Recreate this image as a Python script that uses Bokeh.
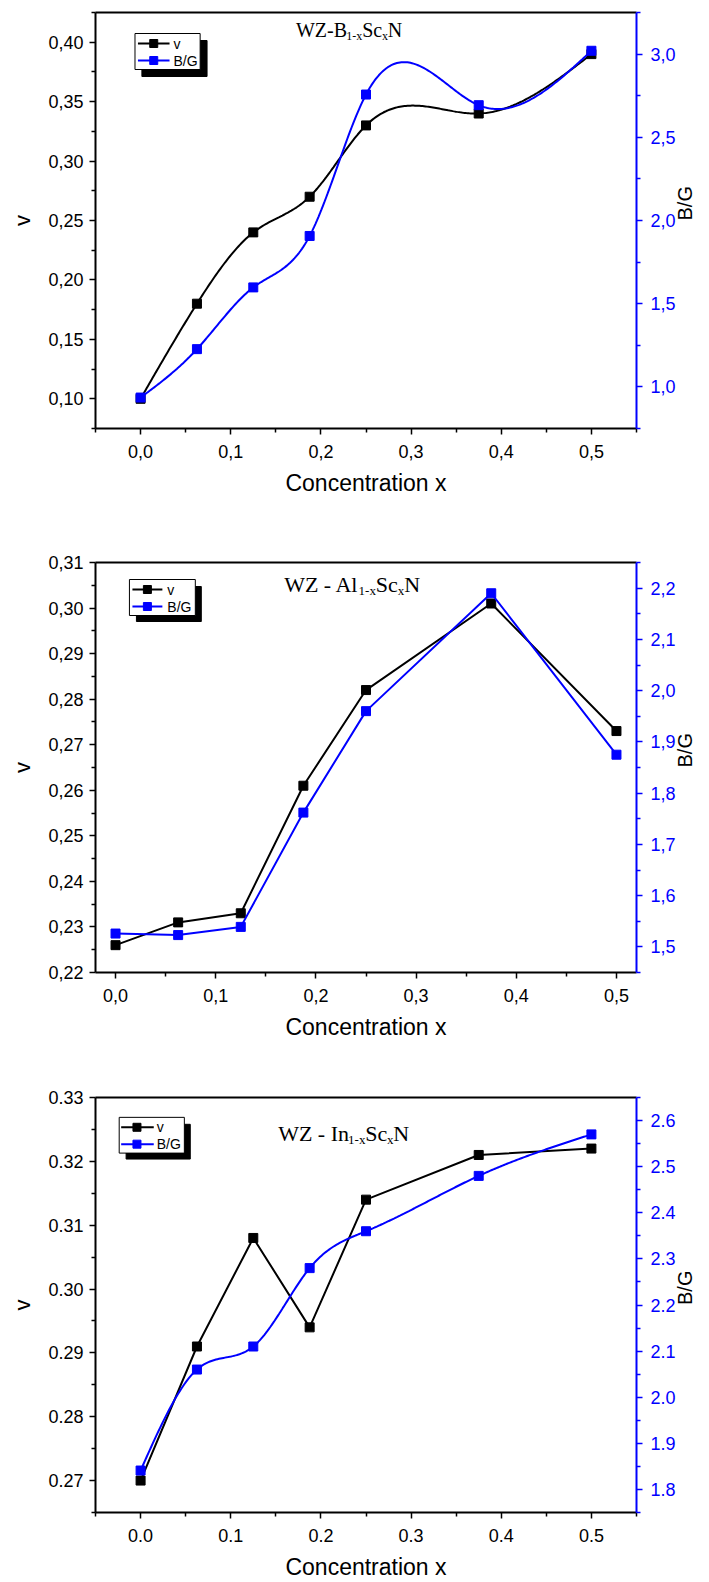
import math
import numpy as np
from bokeh.plotting import figure
from bokeh.models import (Range1d, LinearAxis, FixedTicker, CustomJSTickFormatter, Label)
from bokeh.layouts import column
from bokeh.embed import file_html
from bokeh.resources import INLINE

# Sc concentration x for every compound
conc = [0.0, 0.0625, 0.125, 0.1875, 0.25, 0.375, 0.5]

# WZ-B(1-x)Sc(x)N : Poisson ratio and Pugh ratio
b_nu = [0.100, 0.180, 0.240, 0.270, 0.330, 0.340, 0.390]
b_bg = [0.936, 1.227, 1.598, 1.907, 2.757, 2.693, 3.020]

# WZ-Al(1-x)Sc(x)N
al_nu = [0.226, 0.231, 0.233, 0.261, 0.282, 0.301, 0.273]
al_bg = [1.526, 1.523, 1.539, 1.762, 1.960, 2.190, 1.875]

# WZ-In(1-x)Sc(x)N
in_nu = [0.270, 0.291, 0.308, 0.294, 0.314, 0.321, 0.322]
in_bg = [1.841, 2.060, 2.110, 2.280, 2.360, 2.480, 2.570]

# axis ticks
x_ticks = [0.0, 0.1, 0.2, 0.3, 0.4, 0.5]
b_nu_ticks = [0.10, 0.15, 0.20, 0.25, 0.30, 0.35, 0.40]
b_bg_ticks = [1.0, 1.5, 2.0, 2.5, 3.0]
al_nu_ticks = [0.22, 0.23, 0.24, 0.25, 0.26, 0.27, 0.28, 0.29, 0.30, 0.31]
al_bg_ticks = [1.5, 1.6, 1.7, 1.8, 1.9, 2.0, 2.1, 2.2]
in_nu_ticks = [0.27, 0.28, 0.29, 0.30, 0.31, 0.32, 0.33]
in_bg_ticks = [1.8, 1.9, 2.0, 2.1, 2.2, 2.3, 2.4, 2.5, 2.6]

BLUE = "#0000FF"
SANS = "Liberation Sans"
SERIF = "Liberation Serif"
PAGE_W = 709

# Times advance widths (em) for the title glyphs
TIMES_W = {"W": 0.944, "Z": 0.611, "-": 0.333, "B": 0.667, " ": 0.25, "A": 0.722,
           "l": 0.278, "I": 0.333, "n": 0.5, "S": 0.556, "c": 0.444, "x": 0.5,
           "N": 0.722, "1": 0.5}


def natural_spline(xs, ys, n=300):
    x = np.asarray(xs, float)
    y = np.asarray(ys, float)
    k = len(x)
    h = np.diff(x)
    A = np.zeros((k, k))
    r = np.zeros(k)
    A[0, 0] = A[-1, -1] = 1.0
    for i in range(1, k - 1):
        A[i, i - 1] = h[i - 1]
        A[i, i] = 2 * (h[i - 1] + h[i])
        A[i, i + 1] = h[i]
        r[i] = 3 * ((y[i + 1] - y[i]) / h[i] - (y[i] - y[i - 1]) / h[i - 1])
    c = np.linalg.solve(A, r)
    b = (y[1:] - y[:-1]) / h - h * (2 * c[:-1] + c[1:]) / 3
    d = (c[1:] - c[:-1]) / (3 * h)
    xx = np.linspace(x[0], x[-1], n)
    idx = np.clip(np.searchsorted(x, xx, side="right") - 1, 0, k - 2)
    t = xx - x[idx]
    return xx, y[idx] + b[idx] * t + c[idx] * t ** 2 + d[idx] * t ** 3


def minors_for(majors, lo, hi):
    step = majors[1] - majors[0]
    out = []
    m = majors[0] - step / 2
    while m <= hi + 1e-9:
        if m >= lo - 1e-9:
            out.append(round(m, 6))
        m += step
    return out


def fmt(digits, comma):
    code = "return tick.toFixed(%d)" % digits
    if comma:
        code += ".replace('.', ',')"
    return CustomJSTickFormatter(code=code + ";")


def style_axis(ax, color, size="18px"):
    ax.axis_line_color = color
    ax.axis_line_width = 2
    ax.major_tick_line_color = color
    ax.minor_tick_line_color = color
    ax.major_tick_line_width = 1.5
    ax.minor_tick_line_width = 1.5
    ax.major_tick_in = 0
    ax.major_tick_out = 6
    ax.minor_tick_in = 0
    ax.minor_tick_out = 4
    ax.major_label_text_color = color
    ax.major_label_text_font = SANS
    ax.major_label_text_font_size = size
    ax.axis_label_text_font = SANS
    ax.axis_label_text_font_style = "normal"
    ax.axis_label_text_color = "black"


def build_panel(g):
    fig_top, fig_h = g["fig"]
    left, right, top, bottom = g["frame"]
    x0, x1 = g["xr"]
    n0, n1 = g["nur"]
    b0, b1 = g["bgr"]

    p = figure(width=PAGE_W, height=fig_h,
               x_range=Range1d(x0, x1), y_range=Range1d(n0, n1),
               output_backend="svg", toolbar_location=None,
               min_border_left=left, min_border_right=PAGE_W - right,
               min_border_top=top - fig_top, min_border_bottom=fig_top + fig_h - bottom,
               background_fill_color="white", border_fill_color="white")
    p.outline_line_color = None
    p.xgrid.visible = False
    p.ygrid.visible = False
    p.extra_y_ranges = {"bg": Range1d(b0, b1)}

    def px(v):
        return x0 + (v - left) / (right - left) * (x1 - x0)

    def py(v):
        return n1 - (v - top) / (bottom - top) * (n1 - n0)

    comma = g["comma"]

    xa = p.xaxis[0]
    style_axis(xa, "black")
    xa.ticker = FixedTicker(ticks=g["xt"], minor_ticks=minors_for(g["xt"], x0, x1))
    xa.formatter = fmt(1, comma)
    xa.axis_label = "Concentration x"
    xa.axis_label_text_font_size = "23px"
    xa.major_label_standoff = 10
    xa.axis_label_standoff = 9

    ya = p.yaxis[0]
    style_axis(ya, "black")
    ya.ticker = FixedTicker(ticks=g["nut"], minor_ticks=minors_for(g["nut"], n0, n1))
    ya.formatter = fmt(2, comma)
    ya.axis_label = "v"
    ya.axis_label_text_font_size = "22px"
    ya.major_label_standoff = 6
    ya.axis_label_standoff = 10

    ra = LinearAxis(y_range_name="bg")
    style_axis(ra, BLUE)
    ra.ticker = FixedTicker(ticks=g["bgt"], minor_ticks=minors_for(g["bgt"], b0, b1))
    ra.formatter = fmt(1, comma)
    ra.axis_label = "B/G"
    ra.axis_label_text_font_size = "20px"
    ra.axis_label_orientation = math.pi / 2
    ra.major_label_standoff = 8
    ra.axis_label_standoff = 6
    p.add_layout(ra, "right")

    ta = LinearAxis(ticker=FixedTicker(ticks=[]))
    ta.axis_line_color = "black"
    ta.axis_line_width = 2
    ta.major_tick_out = 0
    ta.minor_tick_out = 0
    ta.major_tick_in = 0
    ta.minor_tick_in = 0
    ta.major_label_standoff = 0
    ta.major_label_text_font_size = "0px"
    p.add_layout(ta, "above")

    # series: v (black) then B/G (blue, on the secondary axis)
    nu, bg = g["nu"], g["bg"]
    if g["smooth_nu"]:
        sx, sy = natural_spline(conc, nu)
    else:
        sx, sy = conc, nu
    p.line(sx, sy, line_color="black", line_width=2)
    p.scatter(conc, nu, marker="square", size=9, fill_color="black", line_color="black")

    if g["smooth_bg"]:
        sx, sy = natural_spline(conc, bg)
    else:
        sx, sy = conc, bg
    p.line(sx, sy, line_color=BLUE, line_width=2, y_range_name="bg")
    p.scatter(conc, bg, marker="square", size=9, fill_color=BLUE, line_color=BLUE,
              y_range_name="bg")

    # legend box with drop shadow
    bl, br, bt, bb = g["box"]
    sh = g["shadow"]
    p.quad(left=[px(bl + 7)], right=[px(br + sh)], top=[py(bt + 7)], bottom=[py(bb + sh)],
           fill_color="black", line_color="black")
    p.quad(left=[px(bl)], right=[px(br)], top=[py(bt)], bottom=[py(bb)],
           fill_color="white", line_color="black", line_width=1)
    lx0, lx1, mx, tx = g["legx"]
    for rowy, col, name in zip(g["rows"], ["black", BLUE], ["v", "B/G"]):
        p.line([px(lx0), px(lx1)], [py(rowy), py(rowy)], line_color=col, line_width=2)
        p.scatter([px(mx)], [py(rowy)], marker="square", size=8, fill_color=col, line_color=col)
        p.add_layout(Label(x=px(tx), y=py(rowy), text=name, text_font=SANS,
                           text_font_size="14px", text_baseline="middle", text_align="left",
                           text_color="black"))

    # compound name with subscripts
    tx0, base, size = g["title_pos"]
    sub_size = round(size * 0.6)
    cur = tx0
    for piece, is_sub in g["title"]:
        fs = sub_size if is_sub else size
        yb = base + (round(size * 0.28) if is_sub else 0)
        p.add_layout(Label(x=px(cur), y=py(yb), text=piece, text_font=SERIF,
                           text_font_size="%dpx" % fs, text_baseline="alphabetic",
                           text_align="left", text_color="black"))
        cur += sum(TIMES_W[ch] for ch in piece) * fs
    return p


panels = [
    dict(fig=(0, 520), frame=(95, 643, 12, 428), xr=(-0.05, 0.55), nur=(0.075, 0.425),
         bgr=(0.75, 3.25), xt=x_ticks, nut=b_nu_ticks, bgt=b_bg_ticks, nu=b_nu, bg=b_bg,
         smooth_nu=True, smooth_bg=True, comma=True,
         box=(135, 201, 33, 69), shadow=7, rows=(43, 60), legx=(138, 170, 154, 174),
         title=[("WZ-B", False), ("1-x", True), ("Sc", False), ("x", True), ("N", False)],
         title_pos=(298, 29, 20)),
    dict(fig=(520, 530), frame=(94, 636, 562, 972), xr=(-0.02, 0.52), nur=(0.22, 0.31),
         bgr=(1.45, 2.25), xt=x_ticks, nut=al_nu_ticks, bgt=al_bg_ticks, nu=al_nu, bg=al_bg,
         smooth_nu=False, smooth_bg=False, comma=True,
         box=(128, 194, 579, 615), shadow=6, rows=(589, 606), legx=(131, 161, 146, 166),
         title=[("WZ - Al", False), ("1-x", True), ("Sc", False), ("x", True), ("N", False)],
         title_pos=(283, 584, 22)),
    dict(fig=(1050, 532), frame=(95, 643, 1097, 1515), xr=(-0.05, 0.55), nur=(0.265, 0.33),
         bgr=(1.75, 2.65), xt=x_ticks, nut=in_nu_ticks, bgt=in_bg_ticks, nu=in_nu, bg=in_bg,
         smooth_nu=False, smooth_bg=True, comma=False,
         box=(119, 185, 1117, 1153), shadow=6, rows=(1127, 1144), legx=(121, 154, 137, 157),
         title=[("WZ - In", False), ("1-x", True), ("Sc", False), ("x", True), ("N", False)],
         title_pos=(280, 1133, 22)),
]

layout = column(*[build_panel(g) for g in panels], spacing=0)

with open("out.html", "w") as f:
    f.write(file_html(layout, INLINE))
